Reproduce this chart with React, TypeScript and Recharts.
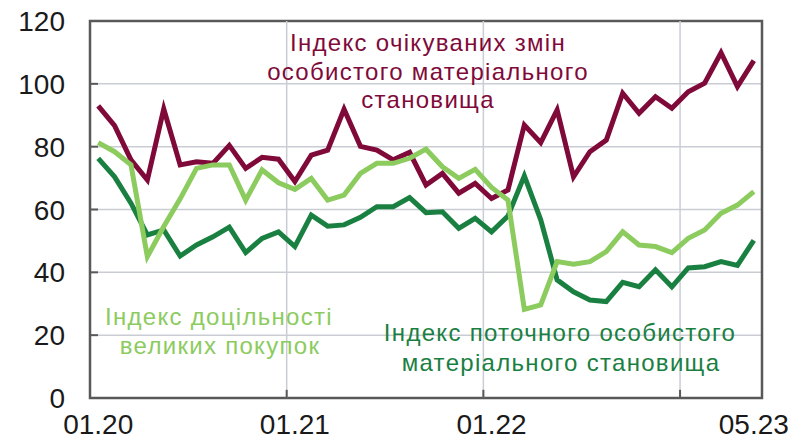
import { CartesianGrid, Line, LineChart, ReferenceArea, ReferenceLine, XAxis, YAxis } from 'recharts'

// Months 01.20 .. 05.23
const months = [
  '01.20', '02.20', '03.20', '04.20', '05.20', '06.20', '07.20', '08.20', '09.20', '10.20', '11.20', '12.20',
  '01.21', '02.21', '03.21', '04.21', '05.21', '06.21', '07.21', '08.21', '09.21', '10.21', '11.21', '12.21',
  '01.22', '02.22', '03.22', '04.22', '05.22', '06.22', '07.22', '08.22', '09.22', '10.22', '11.22', '12.22',
  '01.23', '02.23', '03.23', '04.23', '05.23',
]

// Індекс очікуваних змін особистого матеріального становища
const expected = [
  93.0, 86.7, 75.8, 69.4, 92.0, 74.2, 75.2, 74.7, 80.4, 73.1, 76.6, 76.0,
  68.9, 77.3, 78.9, 91.9, 80.1, 78.9, 75.8, 78.2, 67.8, 71.5, 65.2, 68.3,
  63.5, 66.2, 86.9, 81.3, 91.7, 70.4, 78.4, 82.1, 97.0, 90.6, 95.9, 92.2,
  97.5, 100.2, 109.9, 99.1, 107.4,
]

// Індекс доцільності великих покупок
const durables = [
  81.3, 78.4, 74.2, 45.0, 54.6, 63.4, 73.1, 74.2, 74.2, 63.0, 72.6, 68.5,
  66.4, 69.9, 63.0, 64.6, 71.5, 74.7, 74.7, 76.3, 79.2, 73.6, 69.9, 72.8,
  67.0, 63.0, 28.2, 29.6, 43.4, 42.6, 43.4, 46.6, 52.9, 48.7, 48.2, 46.3,
  50.8, 53.5, 58.8, 61.4, 65.7,
]

// Індекс поточного особистого матеріального становища
const current = [
  76.3, 70.4, 62.0, 51.9, 53.5, 45.2, 48.7, 51.3, 54.4, 46.3, 50.8, 52.9,
  48.2, 58.2, 54.7, 55.1, 57.5, 60.9, 60.9, 63.8, 59.0, 59.3, 54.0, 57.2,
  52.9, 57.9, 70.7, 56.7, 37.6, 33.8, 31.2, 30.7, 36.8, 35.4, 40.8, 35.4,
  41.4, 41.8, 43.4, 42.2, 50.2,
]

const xTicks = [0, 12, 24, 40]
const yTicks = [0, 20, 40, 60, 80, 100, 120]
// category boundaries where the year gridlines sit
const yearBreaks = [11.5, 23.5, 35.5]

const data = months.map((m, i) => ({
  idx: i,
  month: m,
  expected: expected[i],
  durables: durables[i],
  current: current[i],
}))

const FONT = '"Liberation Sans", Arial, sans-serif'
const AXIS = '#595959'
const GRID = '#c9cdd3'
const MAROON = '#7f0a3a'
const DARK = '#1a8042'
const LIGHT = '#8ccb5e'

const YTick = (props: any) => {
  const { x, y, payload } = props
  return (
    <g>
      <line x1={x + 25} x2={x + 33} y1={y} y2={y} stroke={AXIS} strokeWidth={2} />
      <text x={x} y={y} dy='0.36em' textAnchor='end' fontSize={28} fill='#1a1a1a' fontFamily={FONT}>
        {payload.value}
      </text>
    </g>
  )
}

export default function App() {
  return (
    <div style={{ position: 'absolute', left: 0, top: 0, width: 791, height: 441, background: '#fff' }}>
      <LineChart width={791} height={441} data={data} margin={{ top: 21, right: 29, bottom: 0, left: 0 }}>
        <CartesianGrid vertical={false} stroke={GRID} strokeWidth={1.5} />
        {yearBreaks.map((b) => (
          <ReferenceLine key={`g-${b}`} x={b} stroke={GRID} strokeWidth={1.5} />
        ))}
        {yearBreaks.map((b) => (
          <ReferenceLine
            key={`t-${b}`}
            segment={[{ x: b, y: 0 }, { x: b, y: 2.6 }]}
            stroke={AXIS}
            strokeWidth={2}
          />
        ))}
        <XAxis
          type='number'
          dataKey='idx'
          domain={[-0.5, 40.5]}
          ticks={xTicks}
          interval={0}
          tickFormatter={(v: number) => months[v]}
          tickLine={false}
          axisLine={false}
          tickSize={0}
          tickMargin={16}
          height={43}
          tick={{ fontSize: 28, fill: '#1a1a1a', fontFamily: FONT }}
        />
        <YAxis
          domain={[0, 120]}
          ticks={yTicks}
          interval={0}
          width={90}
          tickLine={false}
          axisLine={false}
          tickSize={0}
          tickMargin={25}
          tick={<YTick />}
        />
        <ReferenceArea x1={-0.5} x2={40.5} y1={0} y2={120} fill='none' fillOpacity={0} stroke={AXIS} strokeWidth={2.5} />
        <Line type='linear' dataKey='current' stroke={DARK} strokeWidth={5} dot={false} isAnimationActive={false} />
        <Line type='linear' dataKey='expected' stroke={MAROON} strokeWidth={5} dot={false} isAnimationActive={false} />
        <Line type='linear' dataKey='durables' stroke={LIGHT} strokeWidth={5} dot={false} isAnimationActive={false} />
      </LineChart>
      {/* series annotations */}
      <svg width={791} height={441} style={{ position: 'absolute', left: 0, top: 0, pointerEvents: 'none' }}>
        <g fontFamily={FONT} fontSize={24} letterSpacing={1.3} textAnchor='middle'>
          <text fill={MAROON}>
            <tspan x={428} y={51}>Індекс очікуваних змін</tspan>
            <tspan x={428} y={80}>особистого матеріального</tspan>
            <tspan x={428} y={108}>становища</tspan>
          </text>
          <text fill={LIGHT}>
            <tspan x={219} y={325}>Індекс доцільності</tspan>
            <tspan x={220} y={354}>великих покупок</tspan>
          </text>
          <text fill={DARK}>
            <tspan x={560} y={341}>Індекс поточного особистого</tspan>
            <tspan x={561} y={371}>матеріального становища</tspan>
          </text>
        </g>
      </svg>
    </div>
  )
}
